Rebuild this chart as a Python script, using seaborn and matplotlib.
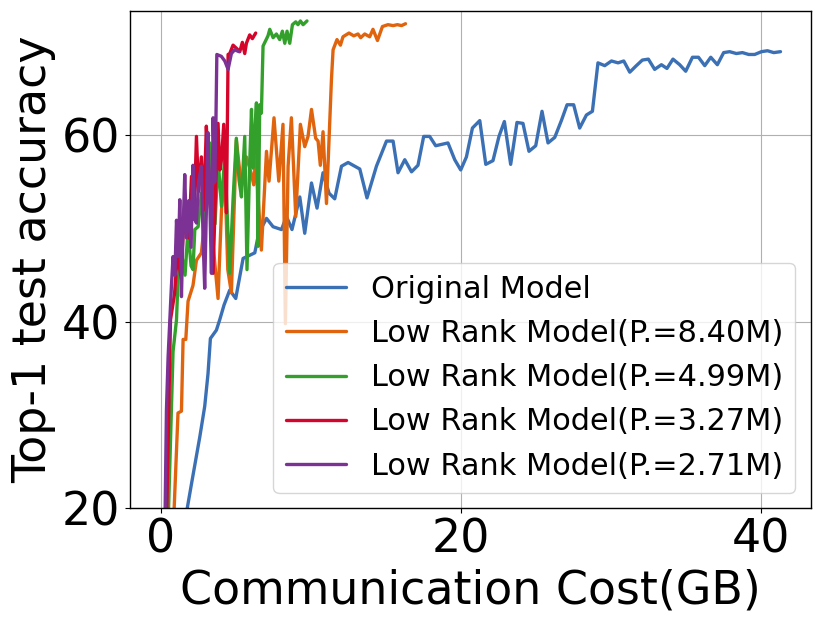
import matplotlib
matplotlib.use("Agg")
import matplotlib.pyplot as plt
import seaborn as sns
import pandas as pd

# ---------------- data ----------------
labels = ["Original Model",
          "Low Rank Model(P.=8.40M)",
          "Low Rank Model(P.=4.99M)",
          "Low Rank Model(P.=3.27M)",
          "Low Rank Model(P.=2.71M)"]

orig_x = [1.45, 1.76, 2.03, 2.58, 2.91, 3.13, 3.29, 3.69, 3.91, 4.2, 4.58, 4.98, 5.47, 6.25, 6.51,
          7.03, 7.47, 8.03, 8.36, 8.73, 9.25, 9.58, 10.03, 10.4, 10.8, 11.2, 11.58, 12.03, 12.47,
          13.25, 13.73, 14.36, 15.03, 15.47, 15.8, 16.25, 16.7, 17.13, 17.51, 17.91, 18.31, 19.13,
          19.58, 19.98, 20.36, 20.76, 21.25, 21.65, 22.13, 22.53, 22.89, 23.31, 23.73, 24.13, 24.53,
          24.98, 25.4, 25.8, 26.25, 26.69, 27.07, 27.51, 27.91, 28.36, 28.76, 29.13, 29.58, 30.03,
          30.47, 30.85, 31.25, 31.69, 32.09, 32.49, 32.91, 33.36, 33.73, 34.13, 34.58, 34.98, 35.43,
          35.83, 36.25, 36.65, 37.09, 37.51, 37.91, 38.36, 38.76, 39.18, 39.58, 40.03, 40.43, 40.85,
          41.3]
orig_y = [17.3, 20.1, 22.6, 27.6, 30.9, 34.4, 38.2, 39.1, 40.2, 41.8, 43.4, 42.5, 46.8, 47.4, 49.5,
          51.1, 50.2, 49.9, 51.3, 49.9, 53.4, 49.5, 54.9, 52.2, 56.0, 53.8, 53.2, 56.7, 57.1,
          56.4, 53.3, 56.7, 59.4, 59.4, 56.0, 57.4, 56.1, 56.8, 59.9, 59.9, 58.9, 59.2,
          57.4, 56.3, 57.7, 60.8, 61.6, 56.9, 57.3, 59.9, 61.5, 56.9, 61.4, 61.3, 58.3,
          58.9, 62.6, 59.2, 59.8, 61.6, 63.3, 63.3, 60.8, 62.2, 62.6, 67.8, 67.5, 68.0,
          67.8, 68.0, 66.8, 67.5, 68.1, 68.2, 67.1, 67.6, 67.2, 68.2, 67.6, 66.9, 68.4,
          68.4, 67.5, 68.4, 67.6, 68.9, 69.0, 68.8, 68.9, 68.7, 68.7, 69.0, 69.1, 68.9,
          69.0]

r840_x = [0.80, 1.13, 1.36, 1.47, 1.65, 1.80, 2.13, 2.36, 2.69, 2.80, 3.25, 3.36, 3.80, 4.03, 4.25,
          4.45, 4.69, 5.02, 5.36, 5.69, 6.00, 6.18, 6.31, 6.69, 7.03, 7.20, 7.53, 7.85, 8.13, 8.29,
          8.47, 8.69, 8.98, 9.29, 9.58, 9.80, 10.03, 10.31, 10.47, 10.62, 10.80, 11.03, 11.36, 11.47,
          11.73, 11.96, 12.13, 12.53, 12.85, 13.13, 13.31, 13.58, 13.91, 14.13, 14.43, 14.76, 15.13,
          15.47, 15.76, 16.03, 16.30]
r840_y = [17.0, 30.2, 30.4, 38.1, 38.1, 42.2, 43.9, 46.6, 47.4, 49.1, 55.2, 50.2, 42.5, 52.0, 56.0,
          45.6, 43.1, 59.5, 54.5, 57.7, 56.0, 54.7, 57.7, 47.7, 58.3, 55.1, 61.9, 55.1, 61.2, 39.8,
          56.7, 61.9, 51.3, 61.2, 58.8, 59.9, 62.8, 59.7, 59.4, 56.8, 60.4, 52.7, 66.0, 69.2,
          70.3, 69.7, 70.6, 71.0, 70.7, 70.9, 70.5, 70.9, 70.6, 71.4, 70.2, 71.7, 71.9,
          71.8, 71.9, 71.8, 72.0]

r499_x = [0.45, 0.80, 1.03, 1.13, 1.40, 1.60, 1.80, 2.00, 2.13, 2.25, 2.47, 2.69, 2.90, 3.05, 3.25,
          3.36, 3.60, 3.80, 4.03, 4.25, 4.45, 4.58, 4.80, 5.02, 5.20, 5.36, 5.58, 5.73, 5.91, 6.03,
          6.13, 6.25, 6.36, 6.47, 6.58, 6.69, 6.80, 7.13, 7.25, 7.47, 7.69, 7.91, 8.09, 8.25, 8.40,
          8.58, 8.76, 8.98, 9.13, 9.29, 9.47, 9.73]
r499_y = [17.0, 36.8, 40.2, 44.5, 47.0, 45.0, 50.0, 46.0, 45.6, 49.9, 50.2, 53.8, 50.0, 56.0, 59.2,
          55.6, 50.5, 57.4, 52.4, 58.0, 50.0, 45.2, 53.1, 59.7, 55.2, 53.4, 59.9, 45.6, 57.0, 62.8,
          56.5, 60.3, 63.5, 48.1, 63.3, 62.4, 69.6, 70.7, 71.4, 70.5, 70.9, 70.3, 71.2, 69.9, 71.2,
          69.9, 71.9, 72.2, 71.9, 72.3, 71.9, 72.3]

r327_x = [0.35, 0.63, 0.90, 1.10, 1.30, 1.50, 1.69, 1.85, 2.03, 2.20, 2.36, 2.50, 2.69, 2.85, 3.02,
          3.13, 3.30, 3.47, 3.65, 3.80, 3.92, 4.03, 4.18, 4.29, 4.36, 4.47, 4.58, 4.80, 5.07, 5.25,
          5.42, 5.58, 5.69, 5.91, 6.09, 6.31]
r327_y = [17.0, 40.2, 43.0, 47.5, 45.0, 50.0, 52.4, 49.0, 55.6, 51.0, 59.9, 54.0, 57.7, 52.0, 61.0,
          57.4, 53.0, 45.2, 55.0, 61.3, 56.3, 57.4, 61.2, 56.0, 51.7, 68.7, 68.8, 69.7, 69.3, 69.0,
          70.0, 68.8, 69.9, 70.8, 70.4, 71.0]

r271_x = [0.25, 0.36, 0.47, 0.58, 0.69, 0.80, 0.92, 1.03, 1.15, 1.25, 1.36, 1.47, 1.58, 1.70, 1.85,
          2.00, 2.13, 2.25, 2.36, 2.50, 2.69, 2.80, 2.91, 3.02, 3.13, 3.25, 3.36, 3.47, 3.58, 3.66,
          3.72, 4.02, 4.25, 4.47, 4.69, 4.91, 5.20]
r271_y = [17.0, 30.5, 36.2, 40.0, 43.8, 47.0, 45.0, 50.9, 47.0, 53.1, 42.7, 50.0, 55.8, 49.0, 53.0,
          48.0, 56.8, 51.0, 50.6, 55.0, 56.7, 49.0, 43.6, 52.0, 60.3, 53.0, 45.2, 61.9, 55.0, 61.7,
          68.7, 68.5, 68.0, 67.1, 68.8, 69.2, 69.0]

series_x = [orig_x, r840_x, r499_x, r327_x, r271_x]
series_y = [orig_y, r840_y, r499_y, r327_y, r271_y]
colors = ["#3b70b5", "#e0640e", "#33a02c", "#d4042a", "#7b3294"]

x_ticks = [0, 20, 40]
y_ticks = [20, 40, 60]

# ---------------- figure ----------------
sns.set_style("ticks")
plt.rcParams["font.family"] = ["DejaVu Sans"]
plt.rcParams["text.color"] = "black"
plt.rcParams["axes.labelcolor"] = "black"

fig = plt.figure(figsize=(8.22, 6.25), dpi=100)
fig.subplots_adjust(left=130 / 822, right=810.5 / 822, bottom=1 - 508 / 625, top=1 - 10.7 / 625)
ax = fig.add_subplot(111)

frames = []
for lab, xs, ys in zip(labels, series_x, series_y):
    frames.append(pd.DataFrame({"cost": xs, "acc": ys, "model": lab}))
df = pd.concat(frames, ignore_index=True)

sns.lineplot(data=df, x="cost", y="acc", hue="model", hue_order=labels,
             palette=colors, estimator=None, sort=False, linewidth=2.4, ax=ax)

for sp in ax.spines.values():
    sp.set_color("black")
    sp.set_linewidth(1.0)

ax.set_xlim(-2.07, 43.3)
ax.set_ylim(20, 73.4)
ax.set_xticks(x_ticks)
ax.set_yticks(y_ticks)
ax.tick_params(axis="both", labelsize=33, colors="black", length=3.5, width=0.8)
ax.grid(True, color="#b0b0b0", linewidth=0.8)
ax.set_axisbelow(True)

ax.set_xlabel("Communication Cost(GB)", fontsize=33, color="black")
ax.set_ylabel("Top-1 test accuracy", fontsize=33, color="black")

leg = ax.legend(loc="lower right", fontsize=21.9, frameon=True, framealpha=0.8)
leg.get_frame().set_edgecolor("#cccccc")
for t in leg.get_texts():
    t.set_color("black")

fig.savefig("out.png", dpi=100)
